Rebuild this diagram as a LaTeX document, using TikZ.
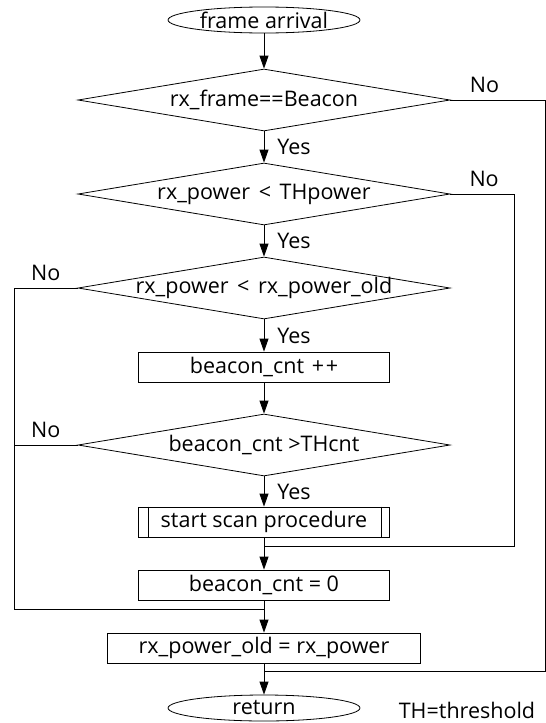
\documentclass[tikz,border=0pt]{standalone}
\usepackage{fontspec}
\setmainfont{Open Sans}
\usetikzlibrary{shapes.geometric,arrows.meta}
\newcommand{\gapsp}{\hspace{0.4em}}
\begin{document}
\begin{tikzpicture}[x=1pt,y=-1pt, line width=0.8pt,
  every node/.style={font=\fontsize{21.5}{25}\selectfont},
  term/.style={draw, ellipse, minimum width=192pt, minimum height=26pt, inner sep=0pt},
  dec/.style={draw, diamond, minimum width=372pt, minimum height=62pt, inner sep=0pt},
  proc/.style={draw, rectangle, minimum width=251pt, minimum height=30pt, inner sep=0pt},
  lbl/.style={inner sep=0pt},
  yes/.style={lbl, anchor=west, xshift=13pt},
  no/.style={lbl, above=7pt},
  arr/.style={-{Triangle[length=13pt,width=9pt]}}
]
\useasboundingbox (0,0) rectangle (546,723);

\node[term] (start) at (264,20) {frame arrival};
\node[dec, label=center:{rx\_frame==Beacon}] (d1) at (264,100) {};
\node[dec, label=center:{rx\_power\gapsp<\gapsp THpower}] (d2) at (264,194) {};
\node[dec, label=center:{rx\_power\gapsp<\gapsp rx\_power\_old}] (d3) at (264,288) {};
\node[proc] (b1) at (264,367) {beacon\_cnt \hspace{0.1em}+\hspace{0.08em}+};
\node[dec, label=center:{beacon\_cnt >THcnt}] (d4) at (264,445) {};
\node[proc] (scan) at (264,522) {start scan procedure};
\draw ([xshift=10pt]scan.north west) -- ([xshift=10pt]scan.south west);
\draw ([xshift=-9pt]scan.north east) -- ([xshift=-9pt]scan.south east);
\node[proc] (b0) at (264,585) {beacon\_cnt = 0};
\node[proc, minimum width=313pt] (b2) at (264,648) {rx\_power\_old = rx\_power};
\node[term] (ret) at (264,708) {return};
\node[lbl] (note) at (467,710) {TH=threshold};

\coordinate (j1) at (264,546);
\coordinate (j2) at (264,609);
\coordinate (j3) at (264,671);
\coordinate (xR1) at (545,0);
\coordinate (xR2) at (514,0);
\coordinate (xL) at (14,0);

\draw[arr] (start) -- (d1);
\draw[arr] (d1.south) -- node[yes]{Yes} (d2.north);
\draw[arr] (d2.south) -- node[yes]{Yes} (d3.north);
\draw[arr] (d3.south) -- node[yes]{Yes} (b1.north);
\draw[arr] (b1.south) -- (d4.north);
\draw[arr] (d4.south) -- node[yes]{Yes} (scan.north);
\draw[arr] (scan.south) -- (b0.north);
\draw[arr] (b0.south) -- (b2.north);
\draw[arr] (b2.south) -- (ret.north);

\draw (d1.east) -- node[no, pos=0.36]{No} (d1.east -| xR1) -- (xR1 |- j3) -- (j3);
\draw (d2.east) -- node[no, pos=0.53]{No} (d2.east -| xR2) -- (xR2 |- j1) -- (j1);
\draw (d3.west) -- node[no, pos=0.5]{No} (d3.west -| xL) -- (xL |- j2) -- (j2);
\draw (d4.west) -- node[no, pos=0.5]{No} (d4.west -| xL);
\end{tikzpicture}
\end{document}
